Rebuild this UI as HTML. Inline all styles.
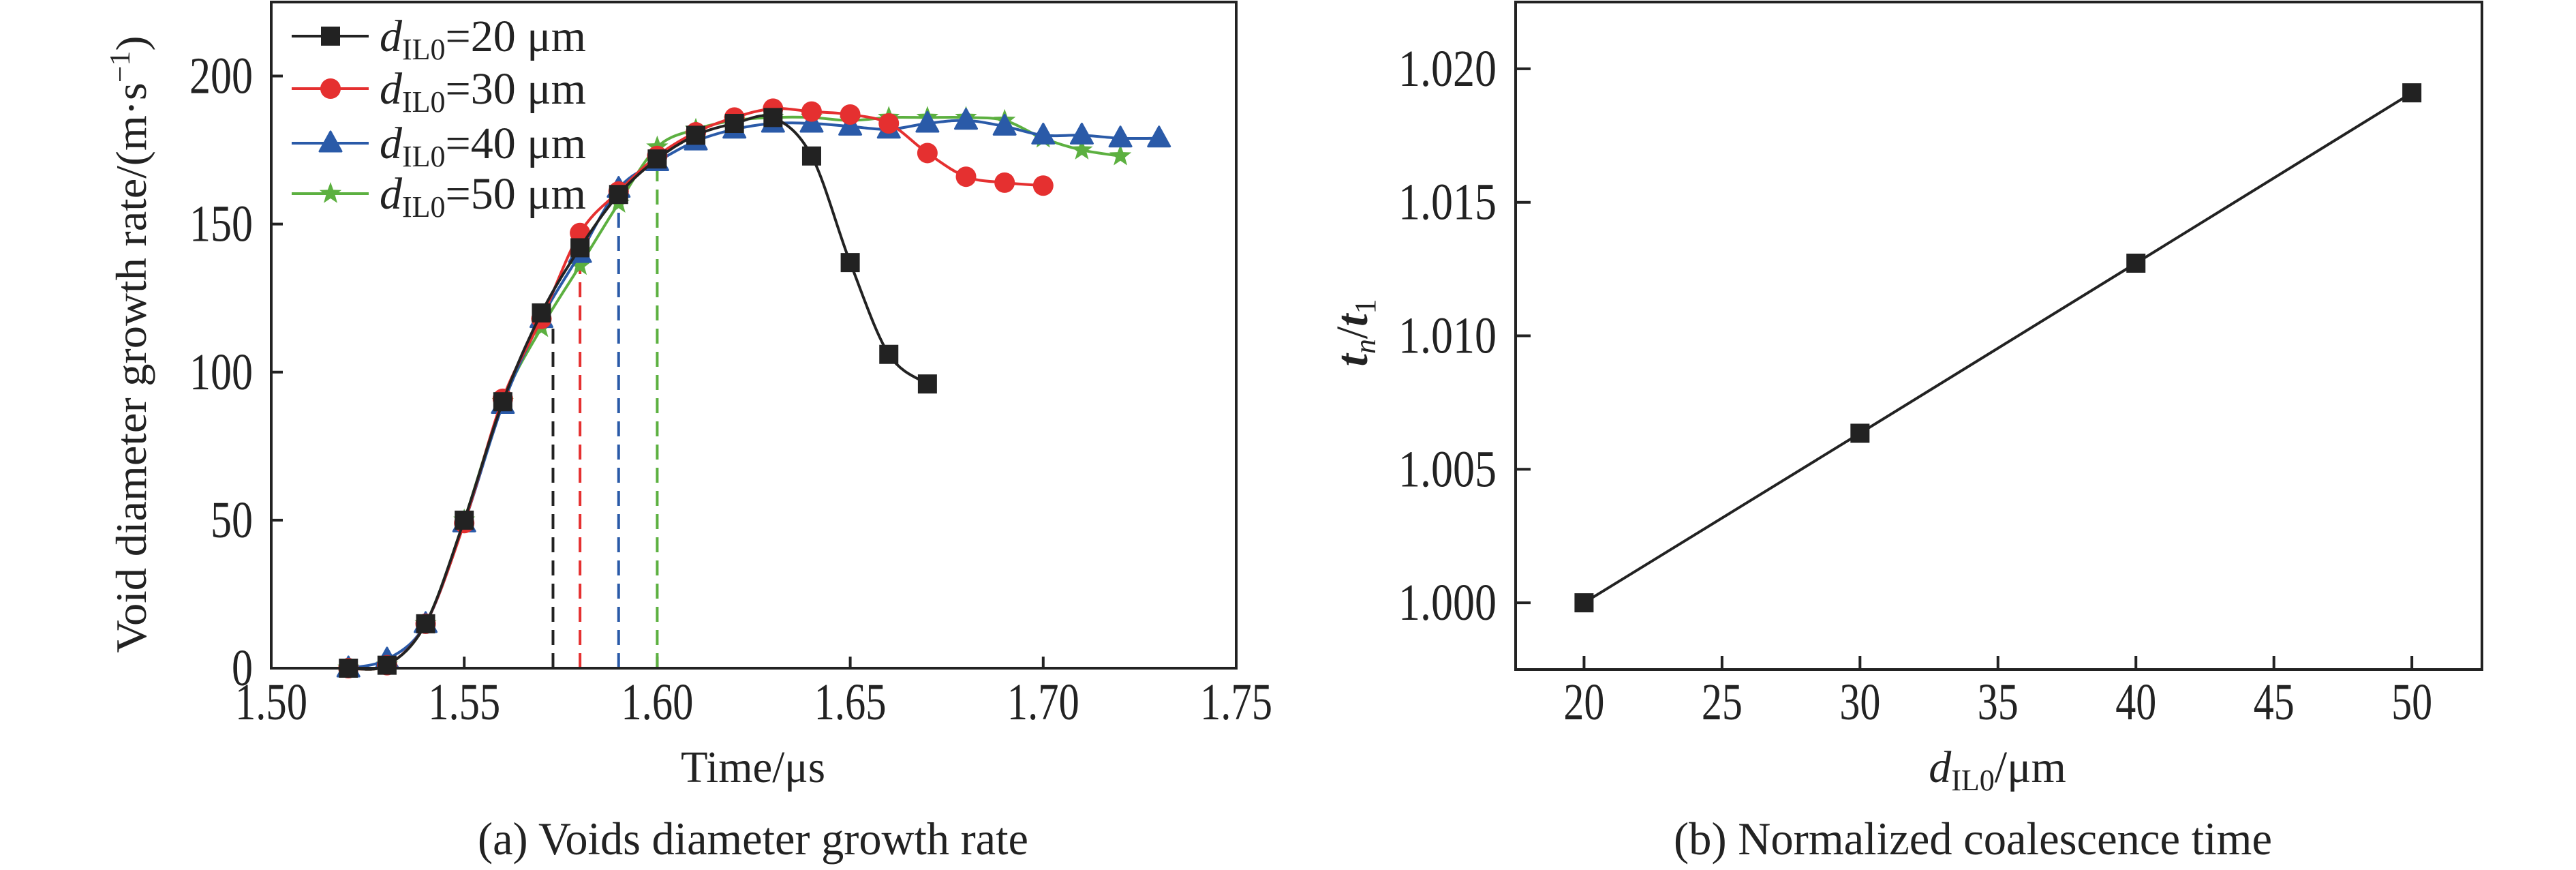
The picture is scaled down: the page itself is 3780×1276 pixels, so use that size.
<!DOCTYPE html>
<html><head><meta charset="utf-8"><style>
html,body{margin:0;padding:0;background:#fff;}
svg{display:block;font-family:"Liberation Serif",serif;}
</style></head><body>
<svg id="fig" width="3780" height="1276" viewBox="0 0 3780 1276" xmlns="http://www.w3.org/2000/svg">
<rect width="3780" height="1276" fill="#fff"/>
<g id="chartA"></g>
<g id="chartB"></g>
</svg>
<script>
// ---- Chart A data ----
const xStart = 1.52, xStep = 0.01;
const s20 = [0,1,15,50,90,120,142,160,172,180,184,186,173,137,106,96];
const s30 = [0,1,15,49,91,118,147,161,173,181,186,189,188,187,184,174,166,164,163];
const s40 = [0,3,15,49,89,118,140,162,171,178,182,184,184,183,182,184,185,183,180,180,179,179];
const s50 = [0,1,15,50,90,115,136,157,176,182,185,186,186,185,186,186,186,185,179,175,173];
const dashX = [1.573,1.58,1.59,1.60];
const dashY = [117,145,162,171];
const xTicksA = [1.50,1.55,1.60,1.65,1.70,1.75];
const xTickLabelsA = ["1.50","1.55","1.60","1.65","1.70","1.75"];
const yTicksA = [0,50,100,150,200];
const yTickLabelsA = ["0","50","100","150","200"];
const legendLabels = ["20","30","40","50"];
// ---- Chart B data ----
const dB = [20,30,40,50];
const tB = [1.000,1.00635,1.01272,1.0191];
const xTicksB = [20,25,30,35,40,45,50];
const yTicksB = [1.000,1.005,1.010,1.015,1.020];
const yTickLabelsB = ["1.000","1.005","1.010","1.015","1.020"];

const NS="http://www.w3.org/2000/svg";
function mk(tag, attrs, parent){const e=document.createElementNS(NS,tag);for(const k in attrs)e.setAttribute(k,attrs[k]);parent.appendChild(e);return e;}
function smooth(pts){
  if(pts.length<2)return "";
  let d="M"+pts[0][0]+","+pts[0][1];
  for(let i=0;i<pts.length-1;i++){
    const p0=pts[Math.max(0,i-1)],p1=pts[i],p2=pts[i+1],p3=pts[Math.min(pts.length-1,i+2)];
    const c1x=p1[0]+(p2[0]-p0[0])/6,c1y=p1[1]+(p2[1]-p0[1])/6;
    const c2x=p2[0]-(p3[0]-p1[0])/6,c2y=p2[1]-(p3[1]-p1[1])/6;
    d+=" C"+c1x+","+c1y+" "+c2x+","+c2y+" "+p2[0]+","+p2[1];
  }
  return d;
}
function marker(g,type,x,y,color){
  let e;
  if(type==="square"){e=mk("rect",{x:x-14,y:y-14,width:28,height:28,fill:color},g);}
  else if(type==="circle"){e=mk("circle",{cx:x,cy:y,r:15,fill:color},g);}
  else if(type==="triangle"){e=mk("path",{d:`M${x},${y-17} L${x+16},${y+12} L${x-16},${y+12} Z`,fill:color,"stroke":color,"stroke-width":3,"stroke-linejoin":"round"},g);}
  else {let d="";for(let k=0;k<10;k++){const r=k%2?7:17;const a=-Math.PI/2+k*Math.PI/5;d+=(k?"L":"M")+(x+r*Math.cos(a))+","+(y+r*Math.sin(a));}e=mk("path",{d:d+"Z",fill:color},g);}
  return e;
}
// ===== Chart A =====
(function(){
  const g=document.getElementById("chartA");
  const L=398,R=1814,T=3,B=980;
  const xs=v=>L+(v-1.50)/0.25*(R-L);
  const ys=v=>B-(v/225)*(B-T);
  // ticks
  xTicksA.forEach((t,i)=>{
    const tk=mk("line",{x1:xs(t),x2:xs(t),y1:B,y2:B-17,stroke:"#222","stroke-width":4},g);
    
    
    const tl=mk("text",{x:xs(t),y:1055,"font-size":76,"text-anchor":"middle",fill:"#222",textLength:106,lengthAdjust:"spacingAndGlyphs"},g);
    tl.textContent=xTickLabelsA[i];
    
    
  });
  yTicksA.forEach((t,i)=>{
    const tk=mk("line",{x1:L,x2:L+17,y1:ys(t),y2:ys(t),stroke:"#222","stroke-width":4},g);
    
    
    const lab=yTickLabelsA[i];
    const tl=mk("text",{x:371,y:ys(t)+25,"font-size":76,"text-anchor":"end",fill:"#222",textLength:31*lab.length,lengthAdjust:"spacingAndGlyphs"},g);
    tl.textContent=lab;
    
    
  });
  // dashed lines
  const dcol=["#222","#e53030","#2a5aa8","#5cb040"];
  dashX.forEach((x,i)=>{
    const dl=mk("line",{x1:xs(x),x2:xs(x),y1:B,y2:ys(dashY[i]),stroke:dcol[i],"stroke-width":4,"stroke-dasharray":"22,12"},g);
    
    
  });
  const series=[
    {d:s50,c:"#5cb040",m:"star",n:"series-50um"},
    {d:s40,c:"#2a5aa8",m:"triangle",n:"series-40um"},
    {d:s30,c:"#e53030",m:"circle",n:"series-30um"},
    {d:s20,c:"#222",m:"square",n:"series-20um"}];
  series.forEach(s=>{
    const sg=mk("g",{},g);
    
    
    const pts=s.d.map((v,i)=>[xs(xStart+i*xStep),ys(v)]);
    const p=mk("path",{d:smooth(pts),fill:"none",stroke:s.c,"stroke-width":4},sg);
    
    
    pts.forEach(pt=>{
      const m=marker(sg,s.m,pt[0],pt[1],s.c);
      
      
    });
  });
  // frame
  const fr=mk("rect",{x:L,y:T,width:R-L,height:B-T,fill:"none",stroke:"#222","stroke-width":4},g);
  
  
  // legend
  const lcol=["#222","#e53030","#2a5aa8","#5cb040"],lm=["square","circle","triangle","star"],ly=[53,130,210,284];
  legendLabels.forEach((lab,i)=>{
    const lg=mk("g",{},g);
    
    
    mk("line",{x1:428,x2:541,y1:ly[i],y2:ly[i],stroke:lcol[i],"stroke-width":4},lg);
    marker(lg,lm[i],485,ly[i],lcol[i]);
    const t=mk("text",{x:557,y:ly[i]+22,"font-size":66,fill:"#222"},lg);
    t.innerHTML=`<tspan font-style="italic">d</tspan><tspan font-size="44" dy="12">IL0</tspan><tspan dy="-12">=${lab} μm</tspan>`;
  });
  // axis titles
  const yt=mk("text",{transform:"translate(214,505) rotate(-90)","font-size":64,"text-anchor":"middle",fill:"#222",textLength:905,lengthAdjust:"spacingAndGlyphs"},g);
  yt.innerHTML='Void diameter growth rate/(m·s<tspan font-size="42" dy="-24">−1</tspan><tspan dy="24">)</tspan>';
  
  
  const xt=mk("text",{x:1105,y:1147,"font-size":66,"text-anchor":"middle",fill:"#222",textLength:212,lengthAdjust:"spacingAndGlyphs"},g);
  xt.textContent="Time/μs";
  
  
  const cap=mk("text",{x:1105,y:1253,"font-size":68,"text-anchor":"middle",fill:"#222",textLength:808,lengthAdjust:"spacingAndGlyphs"},g);
  cap.textContent="(a) Voids diameter growth rate";
  
  
})();
// ===== Chart B =====
(function(){
  const g=document.getElementById("chartB");
  const L=2224,R=3642,T=3,B=982;
  const xs=v=>L+(v-17.52)/(52.54-17.52)*(R-L);
  const ys=v=>B-(v-0.9975)/0.025*(B-T);
  xTicksB.forEach(t=>{
    const tk=mk("line",{x1:xs(t),x2:xs(t),y1:B,y2:B-20,stroke:"#222","stroke-width":4},g);
    
    
    const tl=mk("text",{x:xs(t),y:1055,"font-size":76,"text-anchor":"middle",fill:"#222",textLength:60,lengthAdjust:"spacingAndGlyphs"},g);
    tl.textContent=String(t);
    
    
  });
  yTicksB.forEach((t,i)=>{
    const tk=mk("line",{x1:L,x2:L+22,y1:ys(t),y2:ys(t),stroke:"#222","stroke-width":4},g);
    
    
    const tl=mk("text",{x:2196,y:ys(t)+25,"font-size":76,"text-anchor":"end",fill:"#222",textLength:144,lengthAdjust:"spacingAndGlyphs"},g);
    tl.textContent=yTickLabelsB[i];
    
    
  });
  const pts=dB.map((d,i)=>[xs(d),ys(tB[i])]);
  const ln=mk("polyline",{points:pts.map(p=>p.join(",")).join(" "),fill:"none",stroke:"#222","stroke-width":4},g);
  
  
  pts.forEach(p=>{
    const m=marker(g,"square",p[0],p[1],"#222");
    
    
  });
  const fr=mk("rect",{x:L,y:T,width:R-L,height:B-T,fill:"none",stroke:"#222","stroke-width":4},g);
  
  
  const yt=mk("text",{transform:"translate(2006,488) rotate(-90)","font-size":66,"text-anchor":"middle",fill:"#222"},g);
  yt.innerHTML='<tspan font-style="italic" font-weight="bold">t</tspan><tspan font-style="italic" font-size="44" dy="12">n</tspan><tspan dy="-12">/</tspan><tspan font-style="italic" font-weight="bold">t</tspan><tspan font-size="44" dy="12">1</tspan>';
  
  
  const xt=mk("text",{x:2931,y:1147,"font-size":66,"text-anchor":"middle",fill:"#222"},g);
  xt.innerHTML='<tspan font-style="italic">d</tspan><tspan font-size="44" dy="12">IL0</tspan><tspan dy="-12">/μm</tspan>';
  
  
  const cap=mk("text",{x:2895,y:1253,"font-size":68,"text-anchor":"middle",fill:"#222",textLength:878,lengthAdjust:"spacingAndGlyphs"},g);
  cap.textContent="(b) Normalized coalescence time";
  
  
})();
</script>
</body></html>
